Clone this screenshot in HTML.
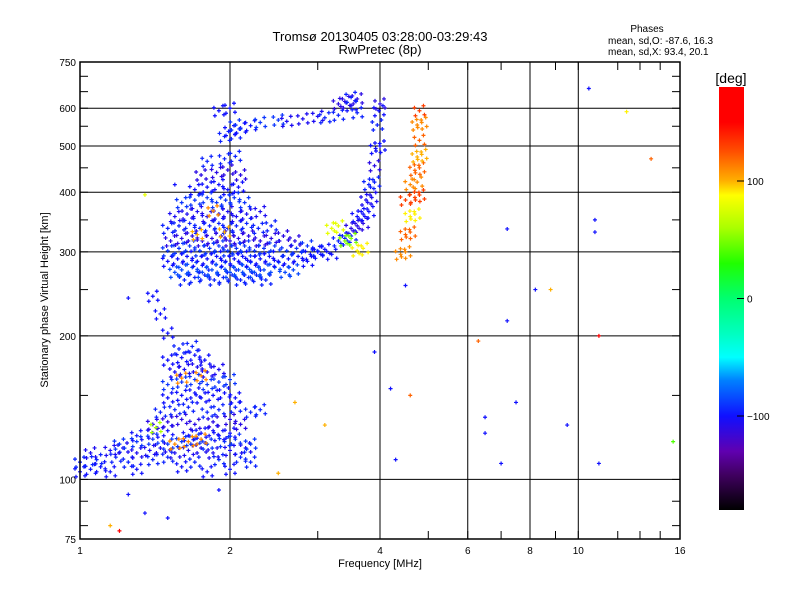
<!DOCTYPE html>
<html><head><meta charset="utf-8"><style>
body{margin:0;background:#fff;width:800px;height:600px;overflow:hidden}
text{font-family:"Liberation Sans",sans-serif;fill:#000}
</style></head><body>
<svg id="chart" width="800" height="600" xmlns="http://www.w3.org/2000/svg">
<defs><linearGradient id="cb" x1="0" y1="0" x2="0" y2="1">
<stop offset="0" stop-color="#ff0000"/><stop offset="0.083" stop-color="#ff0000"/><stop offset="0.153" stop-color="#ff5000"/><stop offset="0.222" stop-color="#ffb000"/><stop offset="0.256" stop-color="#ffff00"/><stop offset="0.333" stop-color="#aaff00"/><stop offset="0.417" stop-color="#20ff00"/><stop offset="0.5" stop-color="#00ff70"/><stop offset="0.583" stop-color="#00ffc0"/><stop offset="0.639" stop-color="#00ffff"/><stop offset="0.694" stop-color="#0080ff"/><stop offset="0.778" stop-color="#1010ff"/><stop offset="0.861" stop-color="#6000b0"/><stop offset="0.917" stop-color="#400060"/><stop offset="1" stop-color="#000000"/>
</linearGradient></defs>
<text x="380" y="41" font-size="13" text-anchor="middle">Tromsø 20130405 03:28:00-03:29:43</text>
<text x="380" y="54" font-size="13" text-anchor="middle">RwPretec (8p)</text>
<text x="647" y="32" font-size="10" text-anchor="middle">Phases</text>
<text x="608" y="44" font-size="10">mean, sd,O: -87.6, 16.3</text>
<text x="608" y="55" font-size="10">mean, sd,X:  93.4, 20.1</text>
<g id="grid"></g>
<g id="marks"></g>
<rect x="80" y="62" width="600" height="477" fill="none" stroke="#000" stroke-width="1.5"/>
<g id="axes"></g>
<text x="380" y="567" font-size="11" text-anchor="middle">Frequency [MHz]</text>
<text transform="translate(48,300) rotate(-90)" font-size="11" text-anchor="middle">Stationary phase Virtual Height [km]</text>
<rect x="719" y="87" width="25" height="423" fill="url(#cb)"/>
<text x="731" y="83" font-size="14" text-anchor="middle">[deg]</text>
<g id="cbticks"></g>
</svg>
<script>
const xTicks=[1,2,4,6,8,10,16];
const xGrid=[2,4,6,8,10];
const xMinor=[3,5,7,9,12,13.3,14.6];
const yTicks=[75,100,200,300,400,500,600,750];
const yGrid=[100,200,300,400,500,600];
const yMinor=[80,90,150,250,350,450,550,650,700];
const cbTicks=[100,0,-100];
// rows of echoes: height (km), phase (deg), frequencies (MHz)
const bandHeights=[265,275,290,305,320,340,360,385,410,440,470,330,370];
const bandPhases=[-95,-85,-100,-90,-110,-95,-105,-90,-100,-110,-95,100,110];
const bandFreqs=[
[1.62,1.7,1.78,1.86,1.94,2.02,2.1,2.18,2.26,2.36],
[1.55,1.6,1.68,1.76,1.84,1.92,2.0,2.08,2.16,2.24,2.34,2.46,2.58,2.68],
[1.5,1.57,1.64,1.72,1.8,1.88,1.96,2.04,2.12,2.2,2.3,2.4,2.5,2.62,2.74,2.86],
[1.5,1.58,1.66,1.74,1.82,1.9,1.98,2.06,2.14,2.24,2.34,2.46,2.6,2.72,2.86,3.0],
[1.52,1.6,1.68,1.76,1.84,1.92,2.0,2.08,2.18,2.3,2.42,2.56,2.7],
[1.5,1.58,1.66,1.74,1.82,1.9,1.98,2.06,2.16,2.28,2.42],
[1.55,1.64,1.72,1.8,1.9,1.98,2.06,2.16,2.3],
[1.6,1.7,1.8,1.88,1.96,2.04,2.14],
[1.7,1.8,1.9,1.98,2.08],
[1.75,1.88,1.98,2.1],
[1.8,1.95,2.05],
[1.72,1.95],
[1.85]];
const curveHeights=[300,320,340,360,390,420,460,500,560,600,620,340,320,305];
const curvePhases=[-100,-95,-110,-100,-105,-95,-110,-100,-95,-100,-110,80,50,90];
const curveFreqs=[[2.9,3.0,3.1,3.2],[3.3,3.4,3.5],[3.5,3.6,3.7],[3.6,3.7,3.8],[3.75,3.85],[3.8,3.9],[3.9],[3.92,4.0],[3.95],[3.98],[4.0],[3.2,3.3],[3.4,3.5],[3.6,3.7]];
const xtraceHeights=[300,330,360,390,420,450,480,520,560,600];
const xtracePhases=[110,120,90,130,110,120,100,120,110,130];
const xtraceFreqs=[[4.4,4.5],[4.5,4.6],[4.6,4.7],[4.5,4.7,4.8],[4.6,4.75],[4.7,4.8],[4.75,4.85],[4.8],[4.75,4.85],[4.8]];
const upperHeights=[530,545,560,570,580,600,620,640];
const upperPhases=[-95,-100,-90,-105,-95,-100,-110,-95];
const upperFreqs=[[1.95,2.05],[2.0,2.1,2.2],[2.05,2.3,2.5],[2.6,2.8,3.0],[3.1,3.3,3.6],[1.9,2.0,3.5],[3.3,3.4,3.6],[3.5]];
const lowHeights=[105,110,115,120,125,132,140,150,160,170,180,190,205,225,245,120,165,130];
const lowPhases=[-100,-95,-105,-90,-100,-110,-95,-100,-90,-105,-100,-95,-100,-100,-100,110,110,60];
const lowFreqs=[[1.0,1.05,1.1,1.15,1.3,1.6,1.8,2.0],[1.0,1.08,1.18,1.25,1.4,1.5,1.7,1.9,2.1,2.2],[1.05,1.15,1.22,1.3,1.38,1.45,1.55,1.65,1.75,1.85,2.0,2.15],[1.2,1.3,1.4,1.5,1.6,1.7,1.8,1.95,2.05,2.2],[1.3,1.4,1.5,1.65,1.75,1.85,1.9,2.0],[1.4,1.5,1.6,1.7,1.85,2.0,2.1],[1.45,1.55,1.65,1.8,1.9,2.05,2.2,2.3],[1.5,1.6,1.7,1.75,1.85,1.95,2.05],[1.5,1.6,1.7,1.8,1.9,2.0],[1.55,1.62,1.72,1.8,1.9],[1.5,1.6,1.7,1.78],[1.58,1.68],[1.5],[1.45],[1.4],[1.55,1.65,1.75],[1.6,1.75],[1.42]];
const sparseFreqs=[1.25,1.35,1.55,3.9,4.5,7.2,8.2,8.8,10.8,10.8,11,14,10.5,12.5,6.3,6.5,6.5,7.5,7.2,7.0,9.5,11,15.5,4.6,4.2,4.3,1.2,1.15,1.35,1.5,1.9,2.5,3.1,2.7,1.25];
const sparseHeights=[240,395,415,185,255,335,250,250,330,350,200,470,660,590,195,135,125,145,215,108,130,108,120,150,155,110,78,80,85,83,95,103,130,145,93];
const sparsePhases=[-100,80,-100,-100,-100,-100,-100,100,-100,-100,170,120,-100,90,120,-100,-100,-100,-100,-100,-100,-100,40,120,-100,-100,150,100,-100,-100,-100,100,100,100,-100];

const X0=80,PX=150,Y0=539,PY=477;
function xs(f){return X0+PX*Math.log2(f);}
function ys(h){return Y0-PY*Math.log10(h/75);}
const stops=[[-180,[0,0,0]],[-150,[64,0,96]],[-130,[96,0,176]],[-100,[16,16,255]],[-70,[0,128,255]],[-50,[0,255,255]],[-30,[0,255,192]],[0,[0,255,112]],[30,[32,255,0]],[60,[170,255,0]],[88,[255,255,0]],[100,[255,176,0]],[125,[255,80,0]],[150,[255,0,0]],[180,[255,0,0]]];
function col(p){for(let i=1;i<stops.length;i++){if(p<=stops[i][0]){const a=stops[i-1],b=stops[i],t=(p-a[0])/(b[0]-a[0]);const c=a[1].map((v,k)=>Math.round(v+(b[1][k]-v)*t));return `rgb(${c})`;}}return 'rgb(255,0,0)';}
const NS='http://www.w3.org/2000/svg';
function mk(tag,attrs,parent){const e=document.createElementNS(NS,tag);for(const k in attrs)e.setAttribute(k,attrs[k]);parent.appendChild(e);return e;}
const grid=document.getElementById('grid'),axes=document.getElementById('axes'),marks=document.getElementById('marks'),cbt=document.getElementById('cbticks');
xGrid.forEach(f=>{const l=mk('line',{x1:xs(f),x2:xs(f),y1:62,y2:539,stroke:'#000','stroke-width':1},grid);

});
yGrid.forEach(h=>{const l=mk('line',{x1:80,x2:680,y1:ys(h),y2:ys(h),stroke:'#000','stroke-width':1},grid);

});
xTicks.forEach(f=>{const t=mk('text',{x:xs(f),y:554,'font-size':10,'text-anchor':'middle'},axes);t.textContent=f;

});
xMinor.concat(xTicks).forEach(f=>{mk('line',{x1:xs(f),x2:xs(f),y1:539,y2:531,stroke:'#000'},axes);mk('line',{x1:xs(f),x2:xs(f),y1:62,y2:70,stroke:'#000'},axes);});
yTicks.forEach(h=>{const t=mk('text',{x:76,y:ys(h)+4,'font-size':10,'text-anchor':'end'},axes);t.textContent=h;

});
yMinor.concat(yTicks).forEach(h=>{mk('line',{x1:80,x2:88,y1:ys(h),y2:ys(h),stroke:'#000'},axes);mk('line',{x1:672,x2:680,y1:ys(h),y2:ys(h),stroke:'#000'},axes);});
function cby(p){return 87+423*(180-p)/360;}
cbTicks.forEach(p=>{mk('line',{x1:737,x2:744,y1:cby(p),y2:cby(p),stroke:'#000'},cbt);const t=mk('text',{x:747,y:cby(p)+4,'font-size':10},cbt);t.textContent=String(p).replace('-','\u2212');

});
// marker glyph: a small cluster of crosses around each echo (pixel offsets, style only)
const glyph=[[0,0],[5,4],[-4,5],[4,-5],[-5,-3]];
function pt(f,h,p,dense){const x=xs(f),y=ys(h);let d='';(dense?glyph:glyph.slice(0,1)).forEach(o=>{d+=`M${x+o[0]-2},${y+o[1]}h4M${x+o[0]},${y+o[1]-2}v4`;});
const e=mk('path',{d:d,stroke:col(p),'stroke-width':1.2},marks);

}
function rows(H,P,F){H.forEach((h,i)=>F[i].forEach((f,j)=>{const hh=h*(1+0.012*((j%3)-1));pt(f,hh,P[i],true);}));}
rows(bandHeights,bandPhases,bandFreqs);
rows(curveHeights,curvePhases,curveFreqs);
rows(xtraceHeights,xtracePhases,xtraceFreqs);
rows(upperHeights,upperPhases,upperFreqs);
rows(lowHeights,lowPhases,lowFreqs);
sparseFreqs.forEach((f,i)=>pt(f,sparseHeights[i],sparsePhases[i],false));
</script>
</body></html>
